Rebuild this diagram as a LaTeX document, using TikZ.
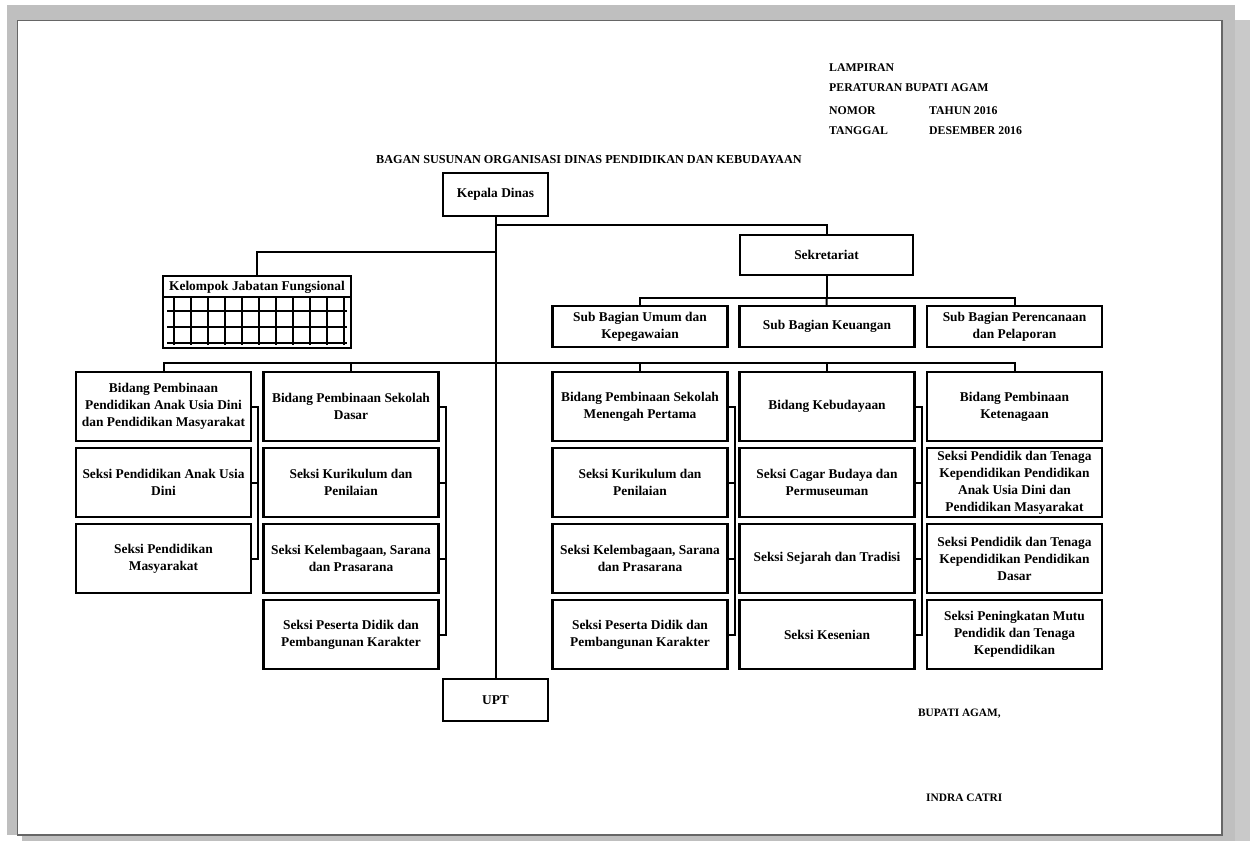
\documentclass[tikz,border=0pt]{standalone}
\usepackage{fontspec}
\setmainfont{Liberation Serif}
\usetikzlibrary{positioning}
\tikzstyle{box} = [draw, line width=2.2pt, minimum width=175pt, minimum height=69pt, inner sep=1pt, align=center, font=\fontsize{13.4}{17}\selectfont\bfseries]
\tikzstyle{line} = [line width=2pt]
\tikzstyle{hdr} = [anchor=base west, inner sep=0pt, font=\fontsize{11.8}{14}\selectfont\bfseries]

\begin{document}
\begin{tikzpicture}[x=1pt,y=-1pt,node distance=76pt]
\useasboundingbox (0,0) rectangle (1250,841);
\fill[white] (0,0) rectangle (1250,841);
\fill[black!25] (7,5) rectangle (1235,841);
\fill[black!21] (1235,20) rectangle (1250,841);
\fill[white] (7,835) rectangle (22,841);
\filldraw[fill=white, draw=black!60, line width=1.5pt] (17.5,20.5) rectangle (1222,835);

\node[hdr] (lamp) at (829,71) {LAMPIRAN};
\node[hdr] (perb) at (829,91.5) {PERATURAN BUPATI AGAM};
\node[hdr] (nomor) at (829,114) {NOMOR};
\node[hdr] (tahun) at (929,114) {TAHUN 2016};
\node[hdr] (tgl) at (829,134) {TANGGAL};
\node[hdr] (des) at (929,134) {DESEMBER 2016};
\node[hdr, font=\fontsize{12.2}{14}\selectfont\bfseries] (judul) at (376,163) {BAGAN SUSUNAN ORGANISASI DINAS PENDIDIKAN DAN KEBUDAYAAN};

\node[box, minimum width=105pt, minimum height=43pt] (kadis) at (495.5,194.5) {Kepala Dinas};
\node[box, minimum width=173pt, minimum height=40pt] (sekr) at (826.5,255) {Sekretariat};
\node[box, minimum height=41pt] (sb1) at (640,326.5) {Sub Bagian Umum dan\\Kepegawaian};
\node[box, minimum height=41pt, right of=sb1, node distance=187pt] (sb2) {Sub Bagian Keuangan};
\node[box, minimum height=41pt, right of=sb2, node distance=187.5pt] (sb3) {Sub Bagian Perencanaan\\dan Pelaporan};

\node[draw, line width=2.2pt, minimum width=188pt, minimum height=72pt] (kjf) at (257,312) {};
\node[inner sep=0pt, font=\fontsize{13.4}{17}\selectfont\bfseries] (kjft) at (257,287) {Kelompok Jabatan Fungsional};
\draw[line width=2pt] (163,297) -- (351,297);
\foreach \x in {174,191,...,344}
  \draw[line width=1.6pt] (\x,297) -- (\x,345);
\foreach \y in {311,327,343}
  \draw[line width=1.6pt] (167,\y) -- (347,\y);

\node[box] (b1) at (163.5,406.5) {Bidang Pembinaan\\Pendidikan Anak Usia Dini\\dan Pendidikan Masyarakat};
\node[box, below of=b1] (b1s1) {Seksi Pendidikan Anak Usia\\Dini};
\node[box, below of=b1s1] (b1s2) {Seksi Pendidikan\\Masyarakat};

\node[box] (b2) at (351,406.5) {Bidang Pembinaan Sekolah\\Dasar};
\node[box, below of=b2] (b2s1) {Seksi Kurikulum dan\\Penilaian};
\node[box, below of=b2s1] (b2s2) {Seksi Kelembagaan, Sarana\\dan Prasarana};
\node[box, below of=b2s2] (b2s3) {Seksi Peserta Didik dan\\Pembangunan Karakter};

\node[box] (b3) at (640,406.5) {Bidang Pembinaan Sekolah\\Menengah Pertama};
\node[box, below of=b3] (b3s1) {Seksi Kurikulum dan\\Penilaian};
\node[box, below of=b3s1] (b3s2) {Seksi Kelembagaan, Sarana\\dan Prasarana};
\node[box, below of=b3s2] (b3s3) {Seksi Peserta Didik dan\\Pembangunan Karakter};

\node[box] (b4) at (827,406.5) {Bidang Kebudayaan};
\node[box, below of=b4] (b4s1) {Seksi Cagar Budaya dan\\Permuseuman};
\node[box, below of=b4s1] (b4s2) {Seksi Sejarah dan Tradisi};
\node[box, below of=b4s2] (b4s3) {Seksi Kesenian};

\node[box] (b5) at (1014.5,406.5) {Bidang Pembinaan\\Ketenagaan};
\node[box, below of=b5] (b5s1) {Seksi Pendidik dan Tenaga\\Kependidikan Pendidikan\\Anak Usia Dini dan\\Pendidikan Masyarakat};
\node[box, below of=b5s1] (b5s2) {Seksi Pendidik dan Tenaga\\Kependidikan Pendidikan\\Dasar};
\node[box, below of=b5s2] (b5s3) {Seksi Peningkatan Mutu\\Pendidik dan Tenaga\\Kependidikan};

\node[box, minimum width=105pt, minimum height=42pt] (upt) at (495.5,700) {UPT};

\node[hdr, font=\fontsize{11.3}{14}\selectfont\bfseries] (bupati) at (918,716.5) {BUPATI AGAM,};
\node[hdr, font=\fontsize{11.4}{14}\selectfont\bfseries] (nama) at (926,801) {INDRA CATRI};

\coordinate (ka) at (495.5,225);
\coordinate (kb) at (495.5,252);
\coordinate (sa) at (826.5,298);
\coordinate (br) at (1014.5,363);

\draw[line] (kadis) -- (upt);
\draw[line] (ka) -| (sekr);
\draw[line] (kb) -| (kjf);
\draw[line] (sekr) -- (sa);
\draw[line] (sb1) |- (sa) -| (sb3);
\draw[line] (sa) -- (sb2);
\draw[line] (b1) |- (br) -- (b5);
\foreach \n in {b2,b3,b4}
  \draw[line] (\n) -- (\n |- br);

\draw[line] (b1.east) -- ++(6,0) |- (b1s2.east);
\draw[line] (b1s1.east) -- ++(6,0);
\foreach \n in {b2,b3,b4} {
  \draw[line] (\n.east) -- ++(6,0) |- (\n s3.east);
  \draw[line] (\n s1.east) -- ++(6,0);
  \draw[line] (\n s2.east) -- ++(6,0);
}
\end{tikzpicture}
\end{document}
